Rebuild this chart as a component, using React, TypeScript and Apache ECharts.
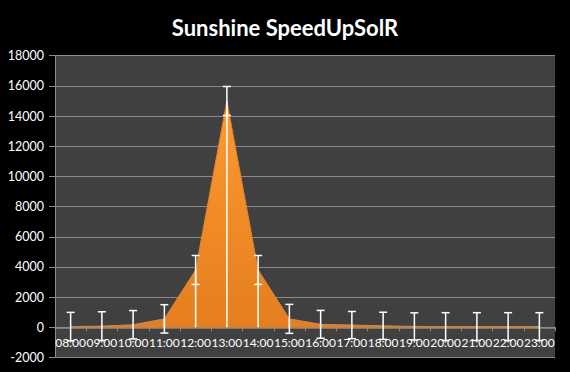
import React, { useEffect, useRef } from "react";
import * as echarts from "echarts";

const categories = ["08:00","09:00","10:00","11:00","12:00","13:00","14:00","15:00","16:00","17:00","18:00","19:00","20:00","21:00","22:00","23:00"];
const values = [50, 80, 170, 560, 3800, 15000, 3800, 560, 200, 150, 100, 60, 50, 50, 50, 50];
const errors = [940, 950, 940, 940, 960, 960, 960, 960, 920, 900, 900, 900, 920, 920, 920, 920];
const yTicks = { min: -2000, max: 18000, interval: 2000 };
const titleText = "Sunshine SpeedUpSolR";

export default function App() {
  const ref = useRef<HTMLDivElement>(null);
  useEffect(() => {
    document.body.style.margin = "0";
    document.body.style.background = "#000000";
    if (!ref.current) return;
    const chart = echarts.init(ref.current, null, { renderer: "svg" });
    const errData = categories.map((c, i) => [i, values[i], errors[i]]);
    const gridTop = 55.7;
    const gridBottom = 14.5;
    const gridH = 372 - gridTop - gridBottom;
    const zeroOffset = -gridH * (0 - yTicks.min) / (yTicks.max - yTicks.min);
    chart.setOption({
      animation: false,
      backgroundColor: "#000000",
      title: {
        text: titleText,
        left: "center",
        top: 11,
        textStyle: { color: "#ffffff", fontFamily: "Lato", fontWeight: "bold", fontSize: 22 },
      },
      grid: {
        left: 55,
        right: 15,
        top: gridTop,
        bottom: gridBottom,
        containLabel: false,
        show: true,
        backgroundColor: "#404040",
        borderWidth: 0,
      },
      xAxis: {
        type: "category",
        data: categories,
        boundaryGap: true,
        position: "bottom",
        offset: zeroOffset,
        axisLine: { onZero: false, lineStyle: { color: "#8c8c8c", width: 1.5 } },
        axisTick: { show: true, length: 4, inside: false, lineStyle: { color: "#8c8c8c" } },
        axisLabel: { color: "#ffffff", fontFamily: "Lato", fontSize: 12, margin: 9, interval: 0 },
        splitLine: { show: false },
      },
      yAxis: {
        type: "value",
        min: yTicks.min,
        max: yTicks.max,
        interval: yTicks.interval,
        axisLine: { show: true, lineStyle: { color: "#8c8c8c" } },
        axisTick: { show: true, length: 6, lineStyle: { color: "#8c8c8c" } },
        axisLabel: {
          color: "#ffffff",
          fontFamily: "Lato",
          fontSize: 12.5,
          margin: 11,
          formatter: (v: number) => String(v),
        },
        splitLine: { show: true, lineStyle: { color: "#8a8a8a", width: 1 } },
      },
      series: [
        {
          type: "line",
          data: values,
          symbol: "none",
          lineStyle: { color: "#E8821E", width: 1 },
          areaStyle: {
            opacity: 1,
            color: new echarts.graphic.LinearGradient(0, 0, 0, 1, [
              { offset: 0, color: "#FC9A33" },
              { offset: 1, color: "#E57E1E" },
            ]),
          },
          z: 2,
        },
        {
          type: "custom",
          data: errData,
          encode: { x: 0, y: 1 },
          z: 5,
          renderItem: (params: any, api: any) => {
            const idx = api.value(0);
            const v = api.value(1);
            const e = api.value(2);
            const top = api.coord([idx, v + e]);
            const bot = api.coord([idx, v - e]);
            const pt = api.coord([idx, v]);
            const base = api.coord([idx, 0]);
            const cap = 4;
            const style = { stroke: "#ffffff", lineWidth: 1.5, fill: "none" };
            return {
              type: "group",
              children: [
                { type: "line", shape: { x1: top[0], y1: top[1], x2: bot[0], y2: bot[1] }, style },
                { type: "line", shape: { x1: top[0] - cap, y1: top[1], x2: top[0] + cap, y2: top[1] }, style },
                { type: "line", shape: { x1: bot[0] - cap, y1: bot[1], x2: bot[0] + cap, y2: bot[1] }, style },
                { type: "line", shape: { x1: pt[0], y1: pt[1], x2: base[0], y2: base[1] }, style },
              ],
            };
          },
        },
      ],
    });
    return () => chart.dispose();
  }, []);
  return <div ref={ref} style={{ width: 570, height: 372 }} />;
}
